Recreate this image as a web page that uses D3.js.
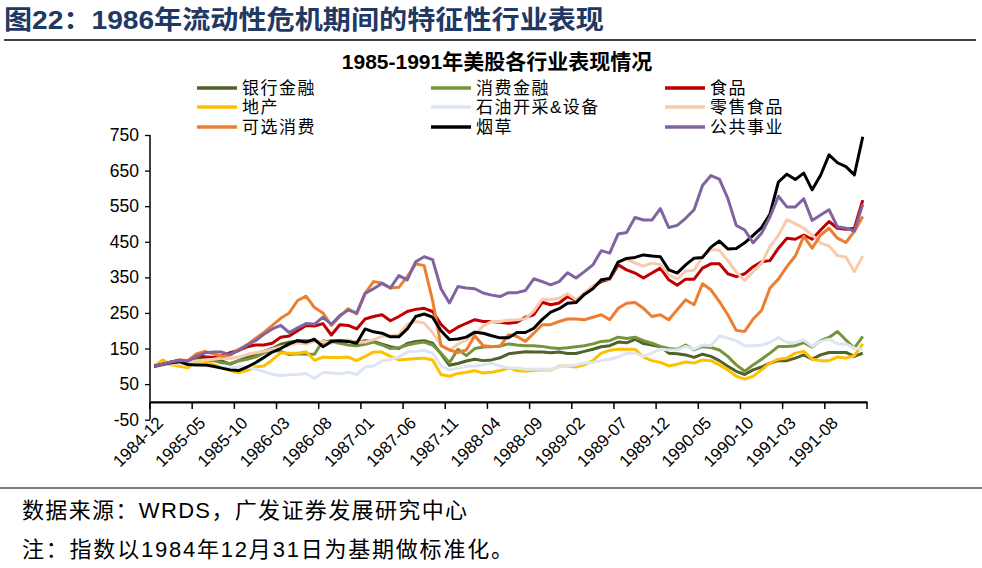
<!DOCTYPE html>
<html><head><meta charset="utf-8">
<script src="https://cdn.jsdelivr.net/npm/d3@7"></script>
<style>body{margin:0;background:#fff}svg{display:block}</style>
</head><body><svg id="c" width="982" height="568"></svg>
<script>
const seriesNames = ["银行金融","消费金融","食品","地产","石油开采&设备","零售食品","可选消费","烟草","公共事业"];
const seriesColors = ["#4F6228","#77933C","#C00000","#FFC000","#DCE6F2","#F8CBAD","#ED7D31","#000000","#8064A2"];
const bank = [100,104,110,112,110,120,124,120,115,106,116,124,134,142,150,162,168,172,172,170,168,172,172,170,168,172,170,162,155,150,164,170,172,165,135,103,108,115,120,116,118,124,135,138,141,140,140,138,140,136,136,142,148,155,158,168,166,176,164,160,155,137,135,132,125,134,128,116,100,86,77,90,98,109,116,116,123,132,120,132,139,139,139,128,137];
const consumerFinance = [100,105,108,112,110,115,118,116,110,108,115,120,126,138,145,142,133,135,134,134,172,168,165,160,158,162,168,160,150,152,160,165,168,160,137,110,148,130,150,154,155,157,163,160,158,158,156,152,150,152,155,158,163,170,172,182,178,182,172,165,156,150,148,160,146,156,153,146,128,104,86,104,120,137,156,156,158,167,154,172,181,198,174,151,184];
const food = [100,106,112,118,116,130,127,125,130,138,145,155,160,160,165,182,185,200,215,213,220,188,217,215,205,233,240,245,228,240,254,260,263,254,218,195,210,221,231,226,226,224,221,224,238,245,280,273,278,296,285,305,324,338,345,385,371,362,348,362,376,343,328,345,345,376,388,388,360,352,360,380,394,397,432,460,457,469,457,483,507,488,485,488,567];
const realEstate = [100,118,104,100,96,115,114,105,96,88,82,88,98,101,118,138,137,137,141,117,126,125,125,126,116,128,140,140,128,118,120,122,123,118,77,72,80,83,88,81,83,88,95,88,86,88,90,90,100,101,98,104,116,137,145,148,148,148,126,116,111,101,106,112,109,118,116,104,90,72,64,72,90,109,120,123,137,142,120,116,116,126,123,130,163];
const oil = [100,104,108,107,104,106,102,99,97,95,98,98,92,85,78,74,76,77,80,66,83,81,79,83,77,98,101,115,120,126,140,142,145,137,101,90,95,100,101,104,109,101,95,95,92,92,92,92,98,101,104,109,111,116,120,126,137,137,128,137,148,146,146,156,148,160,158,186,179,172,158,158,160,167,181,167,167,174,156,170,176,163,163,151,148];
const retailFood = [100,104,107,109,111,115,118,120,123,122,126,133,138,142,148,155,160,166,163,170,170,165,173,173,168,168,175,184,186,189,218,226,222,195,160,146,162,174,190,213,226,226,230,231,234,255,289,287,291,304,288,305,324,343,345,394,401,390,382,390,386,358,345,368,370,408,428,426,397,365,341,366,390,437,468,512,501,488,469,446,438,411,407,366,410];
const discretionary = [100,106,112,116,116,135,142,135,128,132,148,160,178,195,215,235,250,285,297,265,250,215,240,262,247,305,338,334,320,322,352,388,383,285,158,146,139,146,186,158,156,156,189,184,170,193,217,217,226,233,233,231,238,245,231,263,277,279,263,240,245,231,259,287,273,332,315,282,245,201,198,233,257,320,345,380,410,465,432,469,488,460,448,479,521];
const tobacco = [100,106,110,113,105,104,104,100,95,90,88,98,110,125,140,150,163,172,168,176,155,170,172,170,165,205,197,193,183,183,205,240,247,238,200,175,177,182,196,193,186,180,180,195,195,207,232,252,262,277,279,302,318,343,347,393,403,406,413,410,408,371,362,385,404,406,435,452,430,431,447,468,490,528,618,640,625,643,596,637,694,672,661,638,745];
const utilities = [100,106,112,116,115,128,138,140,140,133,144,160,172,190,205,215,195,208,220,218,238,218,243,258,250,305,318,333,320,355,343,394,408,400,318,278,324,320,318,306,300,296,307,307,313,346,338,329,338,363,348,366,385,425,418,472,476,518,511,511,543,490,496,516,540,608,636,626,572,496,483,447,474,520,578,548,548,571,510,525,540,492,488,480,555];
const seriesValues = [bank, consumerFinance, food, realEstate, oil, retailFood, discretionary, tobacco, utilities];
const yTicks = [-50,50,150,250,350,450,550,650,750];
const xTickLabels = ["1984-12","1985-05","1985-10","1986-03","1986-08","1987-01","1987-06","1987-11","1988-04","1988-09","1989-02","1989-07","1989-12","1990-05","1990-10","1991-03","1991-08"];

// month categories 1984-12 .. 1991-12
const categories = [];
for (let k = 0; k < bank.length; k++) {
  const m = 11 + k, yr = 1984 + Math.floor(m / 12), mo = (m % 12) + 1;
  categories.push(yr + "-" + String(mo).padStart(2, "0"));
}

const svg = d3.select("#c");
const LAT = "'Liberation Sans', Arial, 'Noto Sans CJK SC', sans-serif";
const CJK = "'Liberation Sans', 'Noto Sans CJK SC', sans-serif";

// header
svg.append("text").attr("x", 4).attr("y", 29)
  .attr("font-family", CJK).attr("font-weight", "bold").attr("font-size", 26)
  .attr("fill", "#1F3864").attr("textLength", 600).attr("lengthAdjust", "spacingAndGlyphs")
  .text("图22：1986年流动性危机期间的特征性行业表现");
svg.append("line").attr("x1", 4).attr("x2", 976).attr("y1", 40).attr("y2", 40)
  .attr("stroke", "#000").attr("stroke-width", 1.5);

svg.append("text").attr("x", 497).attr("y", 69).attr("text-anchor", "middle")
  .attr("font-family", CJK).attr("font-weight", "bold").attr("font-size", 21)
  .text("1985-1991年美股各行业表现情况");

// scales
const x = d3.scaleBand().domain(categories).range([150, 867]).padding(0);
const y = d3.scaleLinear().domain([-50, 750]).range([419.7, 135]);
const bw = x.bandwidth();

// y axis
const yAxis = d3.axisLeft(y).tickValues(yTicks).tickFormat(d => String(d)).tickSize(5).tickPadding(6);
const gy = svg.append("g").attr("transform", "translate(150,0)").call(yAxis);
gy.select(".domain").attr("stroke", "#000").attr("stroke-width", 1.5).attr("d", "M0," + y(750) + "V" + y(-50));
gy.selectAll(".tick line").attr("stroke", "#000").attr("stroke-width", 1.3);
gy.selectAll(".tick text").attr("font-family", LAT).attr("font-size", 17.5).attr("fill", "#000");

// x axis at y=0
const xAxis = d3.axisBottom(x).tickValues([]).tickSizeOuter(0);
const gx = svg.append("g").attr("transform", "translate(0," + y(0) + ")").call(xAxis);
gx.select(".domain").attr("stroke", "#000").attr("stroke-width", 2.2);
const boundaries = d3.range(0, categories.length + 1, 5);
gx.selectAll(".bt").data(boundaries).enter().append("line")
  .attr("x1", d => 150 + d * bw).attr("x2", d => 150 + d * bw)
  .attr("y1", 0).attr("y2", 7).attr("stroke", "#000").attr("stroke-width", 1.5);

svg.append("g").selectAll("text").data(xTickLabels).enter().append("text")
  .attr("transform", d => "translate(" + (x(d) + bw / 2 + 10) + ",424) rotate(-45)")
  .attr("text-anchor", "end").attr("font-family", LAT).attr("font-size", 17)
  .text(d => d);

// lines
const line = d3.line().x((d, i) => x(categories[i]) + bw / 2).y(d => y(d));
svg.append("g").selectAll("path").data(seriesValues).enter().append("path")
  .attr("d", d => line(d)).attr("fill", "none")
  .attr("stroke", (d, i) => seriesColors[i]).attr("stroke-width", 3)
  .attr("stroke-linejoin", "round");

// legend
const colX = [197, 431, 665], rowY = [88, 107, 127];
const lg = svg.append("g").selectAll("g").data(seriesNames).enter().append("g")
  .attr("transform", (d, i) => "translate(" + colX[i % 3] + "," + rowY[Math.floor(i / 3)] + ")");
lg.append("line").attr("x1", 0).attr("x2", 40).attr("y1", 0).attr("y2", 0)
  .attr("stroke", (d, i) => seriesColors[i]).attr("stroke-width", 3.5);
lg.append("text").attr("x", 45).attr("y", 6).attr("font-family", CJK).attr("font-size", 17)
  .attr("letter-spacing", 1.5).text(d => d);

// footer
svg.append("line").attr("x1", 0).attr("x2", 982).attr("y1", 488).attr("y2", 488)
  .attr("stroke", "#000").attr("stroke-width", 1.2);
svg.append("text").attr("x", 22).attr("y", 518).attr("font-family", CJK).attr("font-size", 22)
  .attr("textLength", 445).attr("lengthAdjust", "spacing")
  .text("数据来源：WRDS，广发证券发展研究中心");
svg.append("text").attr("x", 22).attr("y", 557).attr("font-family", CJK).attr("font-size", 22)
  .attr("textLength", 491).attr("lengthAdjust", "spacing")
  .text("注：指数以1984年12月31日为基期做标准化。");
</script></body></html>
